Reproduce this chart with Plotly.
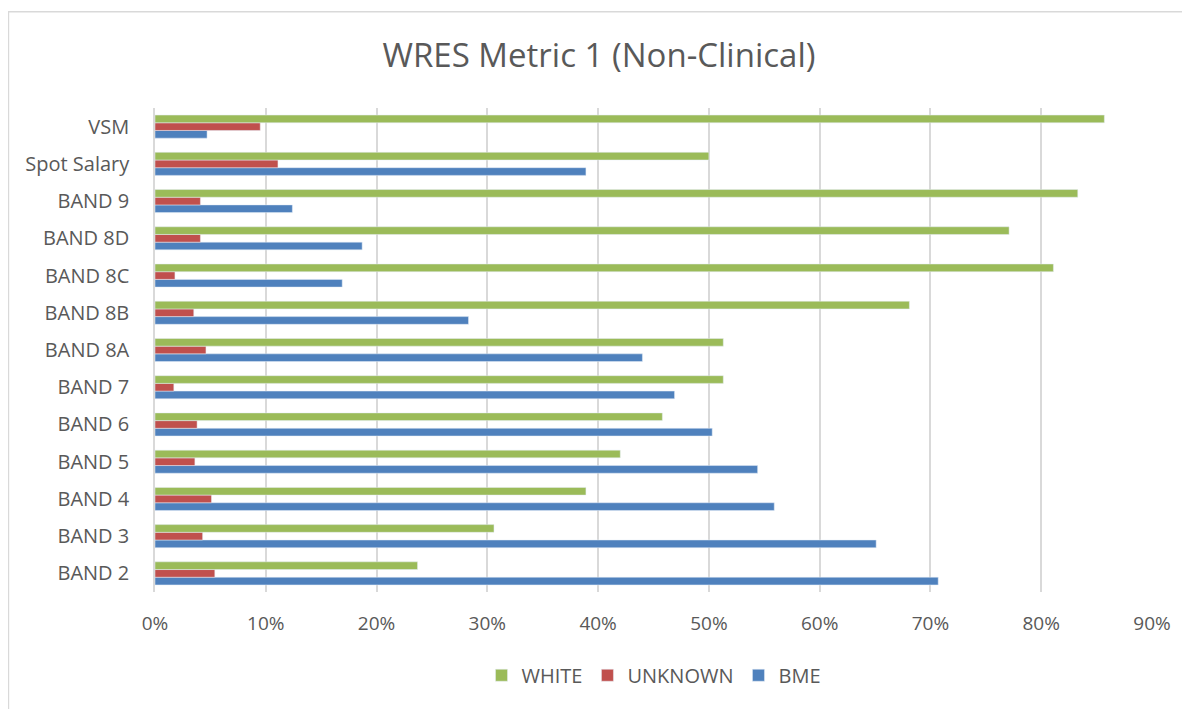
import plotly.graph_objects as go

bands = ["BAND 2", "BAND 3", "BAND 4", "BAND 5", "BAND 6", "BAND 7", "BAND 8A",
         "BAND 8B", "BAND 8C", "BAND 8D", "BAND 9", "Spot Salary", "VSM"]
bme = [0.707, 0.651, 0.559, 0.544, 0.503, 0.469, 0.440, 0.283, 0.169, 0.187, 0.124, 0.389, 0.047]
unknown = [0.054, 0.043, 0.051, 0.036, 0.038, 0.017, 0.046, 0.035, 0.018, 0.041, 0.041, 0.111, 0.095]
white = [0.237, 0.306, 0.389, 0.420, 0.458, 0.513, 0.513, 0.681, 0.811, 0.771, 0.833, 0.500, 0.857]
x_ticks = [0, 0.1, 0.2, 0.3, 0.4, 0.5, 0.6, 0.7, 0.8, 0.9]

fig = go.Figure()
fig.add_trace(go.Bar(y=bands, x=bme, orientation="h", name="BME",
                     marker={"color": "#4F81BD"}))
fig.add_trace(go.Bar(y=bands, x=unknown, orientation="h", name="UNKNOWN",
                     marker={"color": "#C0504D"}))
fig.add_trace(go.Bar(y=bands, x=white, orientation="h", name="WHITE",
                     marker={"color": "#9BBB59"}))

# light frame round the chart area
fig.add_shape(type="rect", xref="paper", yref="paper",
              x0=-0.147, x1=1.06, y0=-0.28, y1=1.199,
              line={"color": "#D9D9D9", "width": 1.5})

fig.update_layout(
    title={"text": "WRES Metric 1 (Non-Clinical)", "x": 0.5, "xanchor": "center",
           "y": 0.933, "yanchor": "middle",
           "font": {"size": 33, "color": "#595959"}},
    barmode="group",
    bargap=0.38,
    bargroupgap=0,
    plot_bgcolor="white",
    paper_bgcolor="white",
    font={"family": "Open Sans, sans-serif", "color": "#595959", "size": 20},
    xaxis={"range": [0, 0.9], "tickvals": x_ticks, "tickformat": ".0%",
           "showgrid": True, "gridcolor": "#D9D9D9", "gridwidth": 1.5,
           "zeroline": False, "ticks": "outside", "ticklen": 14,
           "tickcolor": "rgba(0,0,0,0)", "tickfont": {"size": 19}},
    yaxis={"categoryorder": "array", "categoryarray": bands, "showgrid": False,
           "showline": True, "linecolor": "#D9D9D9", "linewidth": 1.5,
           "ticks": "outside", "ticklen": 20, "tickcolor": "rgba(0,0,0,0)"},
    legend={"orientation": "h", "x": 0.5, "xanchor": "center", "y": -0.172,
            "yanchor": "middle", "traceorder": "reversed",
            "font": {"size": 20, "color": "#595959"}},
    margin={"l": 147, "r": 38, "t": 100, "b": 117},
    width=1182,
    height=701,
)

fig.write_html("out.html")
